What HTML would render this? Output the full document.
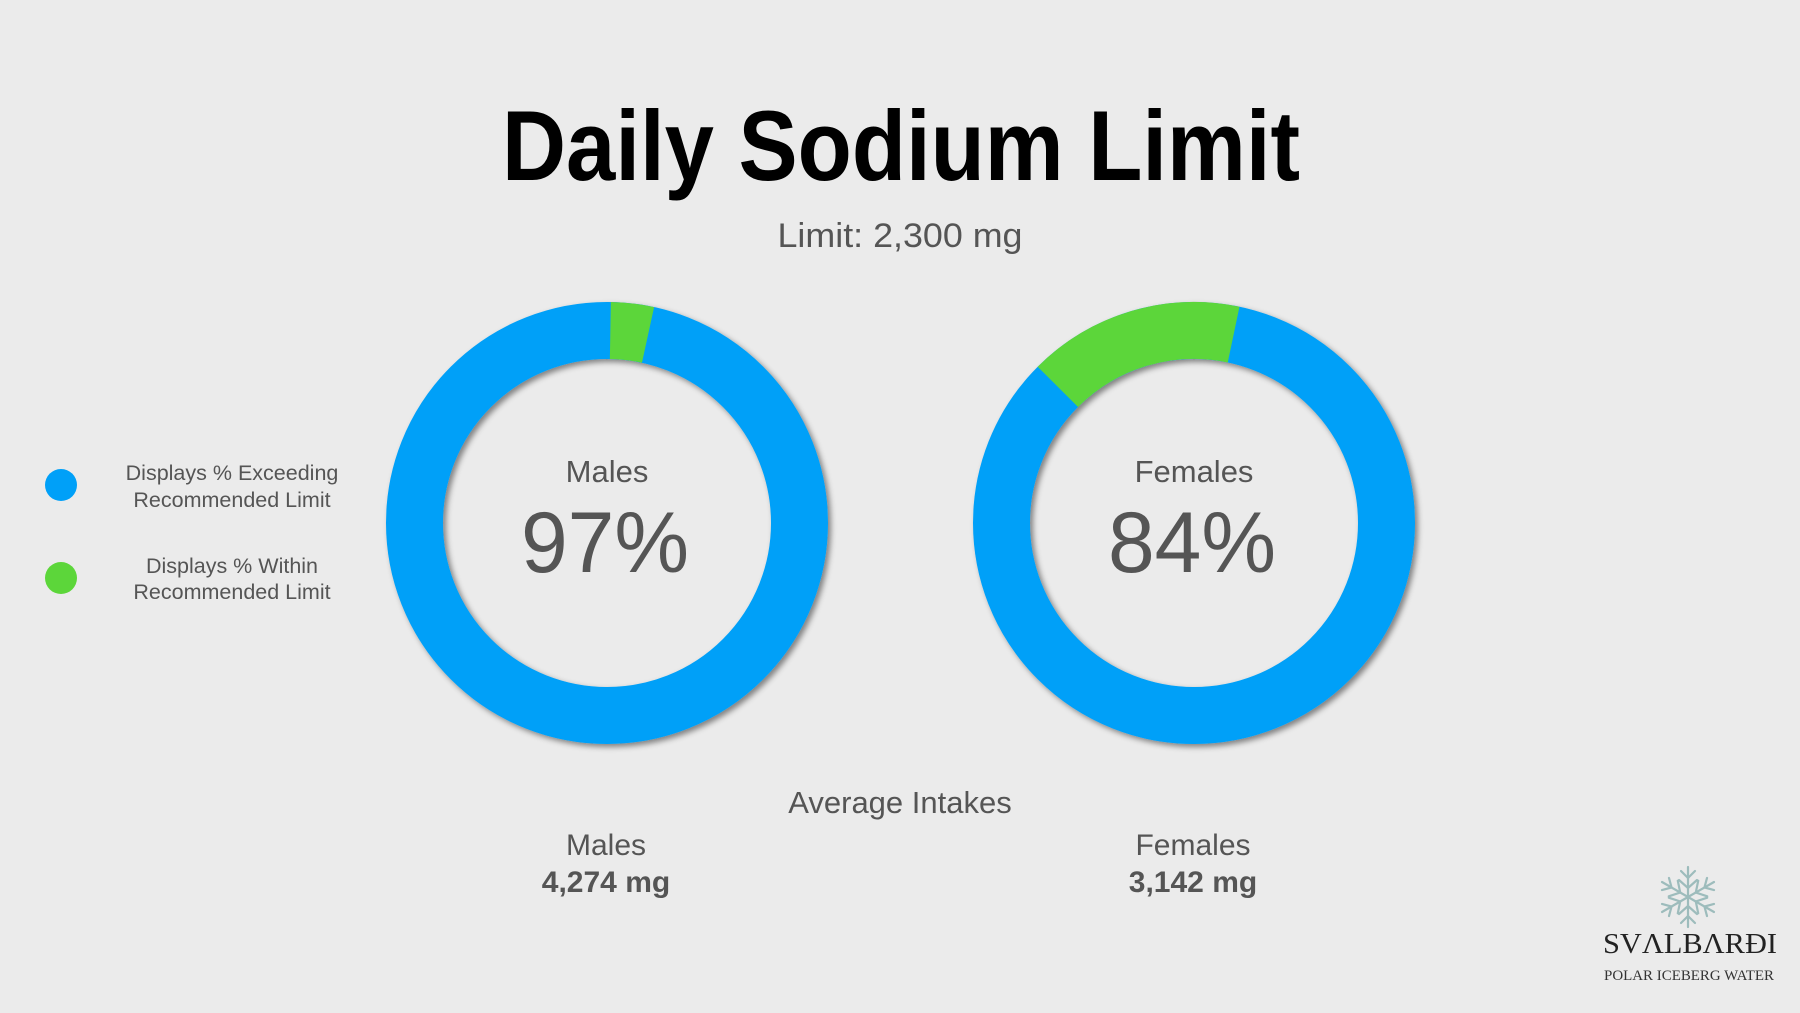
<!DOCTYPE html>
<html><head><meta charset="utf-8"><style>
html,body{margin:0;padding:0;background:#ebebeb;}
svg{display:block;}
</style></head><body>
<svg width="1800" height="1013" viewBox="0 0 1800 1013" xmlns="http://www.w3.org/2000/svg" font-family="Liberation Sans, sans-serif">
<defs>
<filter id="sh" x="-20%" y="-20%" width="140%" height="140%">
<feDropShadow dx="3" dy="3" stdDeviation="3" flood-color="#000" flood-opacity="0.45"/>
</filter>
</defs>
<rect width="1800" height="1013" fill="#ebebeb"/>
<text x="901" y="180" text-anchor="middle" font-size="99" font-weight="bold" fill="#000" textLength="798" lengthAdjust="spacingAndGlyphs">Daily Sodium Limit</text>
<text x="900" y="247" text-anchor="middle" font-size="34" fill="#555" textLength="245" lengthAdjust="spacingAndGlyphs">Limit: 2,300 mg</text>

<!-- Males donut -->
<g filter="url(#sh)">
<circle cx="607" cy="523" r="192.5" fill="none" stroke="#00a0f8" stroke-width="57"/>
</g>
<circle cx="607" cy="523" r="192.5" fill="none" stroke="#5cd63a" stroke-width="57" stroke-dasharray="38 2000" transform="rotate(-89 607 523)"/>
<text x="607" y="482" text-anchor="middle" font-size="31" fill="#555">Males</text>
<text x="605" y="572" text-anchor="middle" font-size="86" fill="#555" textLength="168" lengthAdjust="spacingAndGlyphs">97%</text>

<!-- Females donut -->
<g filter="url(#sh)">
<circle cx="1194" cy="523" r="192.5" fill="none" stroke="#00a0f8" stroke-width="57"/>
</g>
<circle cx="1194" cy="523" r="192.5" fill="none" stroke="#5cd63a" stroke-width="57" stroke-dasharray="191 2000" transform="rotate(-135 1194 523)"/>
<text x="1194" y="482" text-anchor="middle" font-size="31" fill="#555">Females</text>
<text x="1192" y="572" text-anchor="middle" font-size="86" fill="#555" textLength="168" lengthAdjust="spacingAndGlyphs">84%</text>

<!-- Legend -->
<circle cx="61" cy="485" r="16" fill="#00a0f8"/>
<circle cx="61" cy="578" r="16" fill="#5cd63a"/>
<g font-size="21.5" fill="#555" text-anchor="middle">
<text x="232" y="480">Displays % Exceeding</text>
<text x="232" y="507">Recommended Limit</text>
<text x="232" y="573">Displays % Within</text>
<text x="232" y="599">Recommended Limit</text>
</g>

<!-- Averages -->
<text x="900" y="813" text-anchor="middle" font-size="31" fill="#555">Average Intakes</text>
<text x="606" y="855" text-anchor="middle" font-size="30" fill="#555">Males</text>
<text x="606" y="892" text-anchor="middle" font-size="30" font-weight="bold" fill="#555">4,274 mg</text>
<text x="1193" y="855" text-anchor="middle" font-size="30" fill="#555">Females</text>
<text x="1193" y="892" text-anchor="middle" font-size="30" font-weight="bold" fill="#555">3,142 mg</text>

<!-- Logo -->
<g stroke="#9dbcbc" stroke-width="2.2" fill="none" stroke-linecap="round" transform="translate(1688 897)">
<g id="arm">
<line x1="0" y1="0" x2="0" y2="-30"/>
<polyline points="-7,-26 0,-19 7,-26"/>
<polyline points="-9,-17 0,-9 9,-17"/>
</g>
<use href="#arm" transform="rotate(60)"/>
<use href="#arm" transform="rotate(120)"/>
<use href="#arm" transform="rotate(180)"/>
<use href="#arm" transform="rotate(240)"/>
<use href="#arm" transform="rotate(300)"/>
</g>
<text x="1690" y="953" text-anchor="middle" font-family="Liberation Serif, serif" font-size="29" fill="#222" textLength="174" lengthAdjust="spacingAndGlyphs">SVΛLBΛRÐI</text>
<text x="1689" y="980" text-anchor="middle" font-family="Liberation Serif, serif" font-size="15" fill="#333" textLength="170" lengthAdjust="spacingAndGlyphs">POLAR ICEBERG WATER</text>
</svg>
</body></html>
